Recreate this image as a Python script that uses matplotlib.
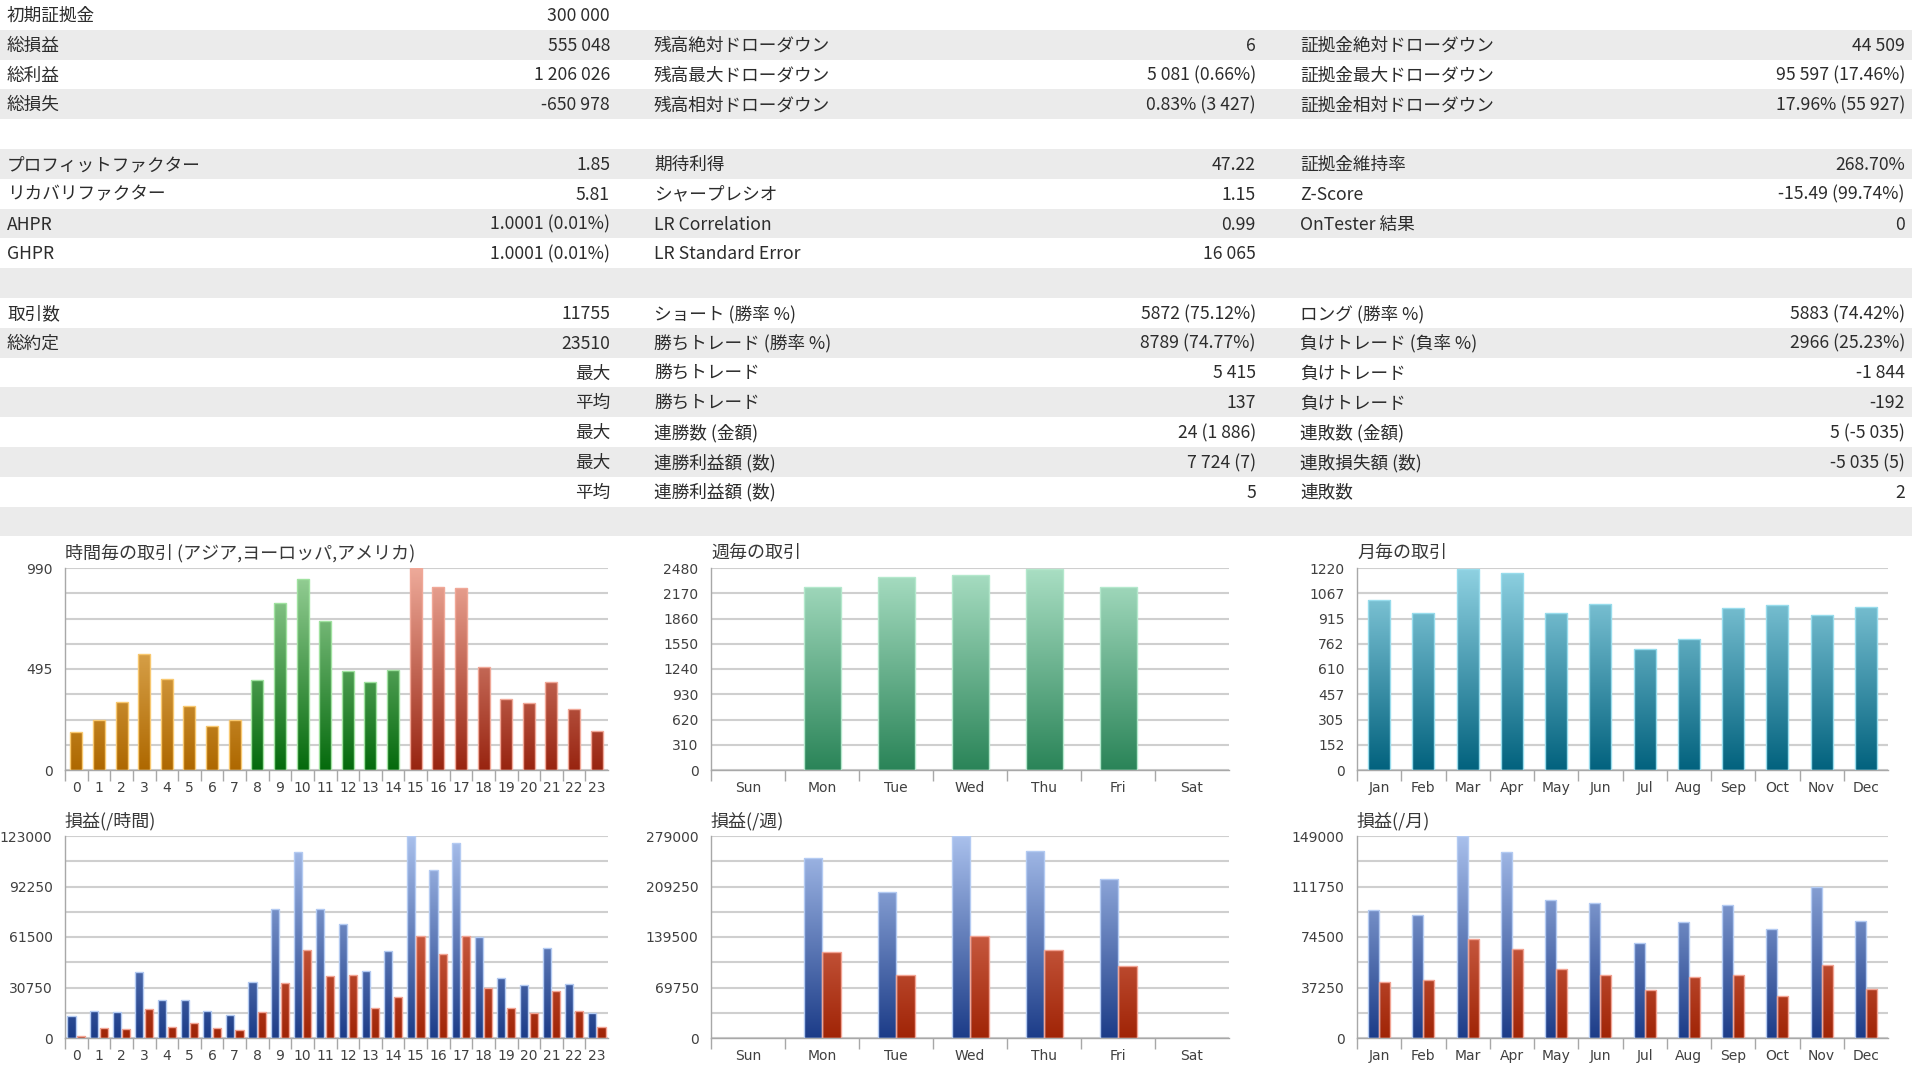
import numpy as np
import matplotlib
matplotlib.use("Agg")
import matplotlib.pyplot as plt
from matplotlib.colors import LinearSegmentedColormap
from matplotlib.patches import Rectangle
from matplotlib.ticker import FixedLocator

# -------------------- DATA --------------------

table_rows = [
    ("初期証拠金", "300 000", "", "", "", ""),
    ("総損益", "555 048", "残高絶対ドローダウン", "6", "証拠金絶対ドローダウン", "44 509"),
    ("総利益", "1 206 026", "残高最大ドローダウン", "5 081 (0.66%)", "証拠金最大ドローダウン", "95 597 (17.46%)"),
    ("総損失", "-650 978", "残高相対ドローダウン", "0.83% (3 427)", "証拠金相対ドローダウン", "17.96% (55 927)"),
    ("", "", "", "", "", ""),
    ("プロフィットファクター", "1.85", "期待利得", "47.22", "証拠金維持率", "268.70%"),
    ("リカバリファクター", "5.81", "シャープレシオ", "1.15", "Z-Score", "-15.49 (99.74%)"),
    ("AHPR", "1.0001 (0.01%)", "LR Correlation", "0.99", "OnTester 結果", "0"),
    ("GHPR", "1.0001 (0.01%)", "LR Standard Error", "16 065", "", ""),
    ("", "", "", "", "", ""),
    ("取引数", "11755", "ショート (勝率 %)", "5872 (75.12%)", "ロング (勝率 %)", "5883 (74.42%)"),
    ("総約定", "23510", "勝ちトレード (勝率 %)", "8789 (74.77%)", "負けトレード (負率 %)", "2966 (25.23%)"),
    ("", "最大", "勝ちトレード", "5 415", "負けトレード", "-1 844"),
    ("", "平均", "勝ちトレード", "137", "負けトレード", "-192"),
    ("", "最大", "連勝数 (金額)", "24 (1 886)", "連敗数 (金額)", "5 (-5 035)"),
    ("", "最大", "連勝利益額 (数)", "7 724 (7)", "連敗損失額 (数)", "-5 035 (5)"),
    ("", "平均", "連勝利益額 (数)", "5", "連敗数", "2"),
    ("", "", "", "", "", ""),
]

hour_labels = [str(h) for h in range(24)]
hour_session = ["asia"] * 8 + ["europe"] * 7 + ["america"] * 9
hour_trades = [188, 245, 333, 569, 448, 315, 216, 247, 441, 817, 934, 729,
               485, 430, 490, 988, 895, 894, 505, 346, 327, 433, 297, 191]
hour_profit = [13420, 16670, 15860, 40260, 23180, 22970, 16470, 13820,
               33950, 78270, 113240, 78680, 69530, 40860, 53060, 122800,
               102060, 118530, 61400, 36800, 32330, 55100, 33140, 15040]
hour_loss = [1000, 6100, 5290, 17690, 6910, 9150, 6100, 4880,
             15650, 33750, 53670, 37610, 38220, 18090, 24800, 62210,
             51230, 62210, 30290, 18090, 15040, 28670, 16670, 6710]

day_labels = ["Sun", "Mon", "Tue", "Wed", "Thu", "Fri", "Sat"]
day_trades = [0, 2252, 2372, 2398, 2471, 2244, 0]
day_profit = [0, 248500, 201500, 279000, 257700, 219430, 0]
day_loss = [0, 118200, 87680, 140960, 122070, 99300, 0]

month_labels = ["Jan", "Feb", "Mar", "Apr", "May", "Jun",
                "Jul", "Aug", "Sep", "Oct", "Nov", "Dec"]
month_trades = [1025, 951, 1216, 1190, 947, 1002, 732, 793, 981, 998, 939, 987]
month_profit = [94420, 90800, 148740, 137100, 101920, 99590,
                70360, 85620, 98040, 80190, 111490, 86400]
month_loss = [41390, 42420, 72690, 65450, 51220, 46820,
              35700, 44750, 46300, 30780, 53800, 35960]

hour_trade_ticks = [0, 495, 990]
hour_pnl_ticks = [0, 30750, 61500, 92250, 123000]
day_trade_ticks = [0, 310, 620, 930, 1240, 1550, 1860, 2170, 2480]
day_pnl_ticks = [0, 69750, 139500, 209250, 279000]
month_trade_ticks = [0, 152, 305, 457, 610, 762, 915, 1067, 1220]
month_pnl_ticks = [0, 37250, 74500, 111750, 149000]

# (top colour, bottom colour, edge colour)
COLORS = {
    "asia": ("#f4c87c", "#ae6800", "#f8c870"),
    "europe": ("#9ad29a", "#046a0c", "#a0e2a0"),
    "america": ("#eeaa9a", "#982410", "#f0a898"),
    "week": ("#aadfc4", "#2a8458", "#b4e8cc"),
    "month": ("#90d2e2", "#02627e", "#98dcec"),
    "profit": ("#a9c0ec", "#1c3c88", "#b4cbf2"),
    "loss": ("#ec8c76", "#a02406", "#f2a494"),
}

W, H = 1920, 1080
ROW_H = 29.8
CJK = ["Noto Sans CJK JP", "DejaVu Sans"]
TEXT = "#2c2c2c"

fig = plt.figure(figsize=(19.2, 10.8), dpi=100)
fig.patch.set_facecolor("white")


def px_rect(left, top, right, bottom):
    return [left / W, 1 - bottom / H, (right - left) / W, (bottom - top) / H]


# -------------------- TABLE --------------------

bg = fig.add_axes([0, 0, 1, 1])
bg.set_xlim(0, W)
bg.set_ylim(H, 0)
bg.axis("off")

cols = [(7, "left"), (610, "right"), (654, "left"), (1256, "right"),
        (1300, "left"), (1905, "right")]

for i, row in enumerate(table_rows):
    y0 = i * ROW_H
    if i % 2 == 1:
        bg.add_patch(Rectangle((0, y0), 1912, ROW_H, facecolor="#ebebeb", lw=0))
    for (x, ha), txt in zip(cols, row):
        if txt:
            bg.text(x, y0 + ROW_H / 2 + 1, txt, ha=ha, va="center",
                    fontsize=12.7, color=TEXT, family=CJK)

# -------------------- CHARTS --------------------

GRAD = np.linspace(0, 1, 256).reshape(-1, 1)


def gradient_bars(ax, x, values, width, color_keys, top, n):
    for xi, v, key in zip(x, values, color_keys):
        if v <= 0:
            continue
        c_top, c_bot, edge = COLORS[key]
        cmap = LinearSegmentedColormap.from_list("g", [c_bot, c_top])
        bar = ax.bar(xi, v, width, facecolor="none", edgecolor=edge,
                     linewidth=1, zorder=3)[0]
        im = ax.imshow(GRAD, cmap=cmap, origin="lower", aspect="auto",
                       extent=(-0.5, n - 0.5, 0, top), zorder=2,
                       interpolation="bilinear")
        im.set_clip_path(bar)


def bar_chart(rect, title, labels, series, ticks):
    ax = fig.add_axes(rect)
    ax.set_facecolor("none")
    n = len(labels)
    x = np.arange(n)
    top = ticks[-1]

    for values, offset, width, keys in series:
        gradient_bars(ax, x + offset, values, width, keys, top, n)

    ax.set_xlim(-0.5, n - 0.5)
    ax.set_ylim(0, top)

    ax.set_xticks(x)
    ax.set_xticklabels(labels)
    ax.xaxis.set_minor_locator(FixedLocator(x - 0.5))
    ax.tick_params(axis="x", which="major", length=0, pad=8,
                   labelsize=10, labelcolor="#404040")
    ax.tick_params(axis="x", which="minor", length=8, width=1, color="#a8a8a8")

    ax.set_yticks(ticks)
    ax.set_yticklabels([str(t) for t in ticks])
    ax.yaxis.set_minor_locator(FixedLocator(np.linspace(0, top, 9)))
    ax.tick_params(axis="y", which="both", length=0, pad=9,
                   labelsize=10, labelcolor="#404040")
    ax.grid(axis="y", which="both", color="#cfcfcf", lw=1.5)
    ax.set_axisbelow(True)

    for side in ("top", "right"):
        ax.spines[side].set_visible(False)
    for side in ("left", "bottom"):
        ax.spines[side].set_color("#a8a8a8")
        ax.spines[side].set_linewidth(1)

    ax.set_title(title, loc="left", pad=7, fontsize=13, color="#383838",
                 family=CJK)
    return ax


TOP_T, TOP_B = 568, 770
BOT_T, BOT_B = 836, 1038

bar_chart(px_rect(65, TOP_T, 608, TOP_B),
          "時間毎の取引 (アジア,ヨーロッパ,アメリカ)", hour_labels,
          [(hour_trades, 0, 0.53, hour_session)], hour_trade_ticks)

bar_chart(px_rect(65, BOT_T, 608, BOT_B), "損益(/時間)", hour_labels,
          [(hour_profit, -0.215, 0.36, ["profit"] * 24),
           (hour_loss, 0.215, 0.36, ["loss"] * 24)], hour_pnl_ticks)

bar_chart(px_rect(711, TOP_T, 1229, TOP_B), "週毎の取引", day_labels,
          [(day_trades, 0, 0.5, ["week"] * 7)], day_trade_ticks)

bar_chart(px_rect(711, BOT_T, 1229, BOT_B), "損益(/週)", day_labels,
          [(day_profit, -0.125, 0.25, ["profit"] * 7),
           (day_loss, 0.125, 0.25, ["loss"] * 7)], day_pnl_ticks)

bar_chart(px_rect(1357, TOP_T, 1888, TOP_B), "月毎の取引", month_labels,
          [(month_trades, 0, 0.5, ["month"] * 12)], month_trade_ticks)

bar_chart(px_rect(1357, BOT_T, 1888, BOT_B), "損益(/月)", month_labels,
          [(month_profit, -0.125, 0.25, ["profit"] * 12),
           (month_loss, 0.125, 0.25, ["loss"] * 12)], month_pnl_ticks)

fig.savefig("out.png", dpi=100)
